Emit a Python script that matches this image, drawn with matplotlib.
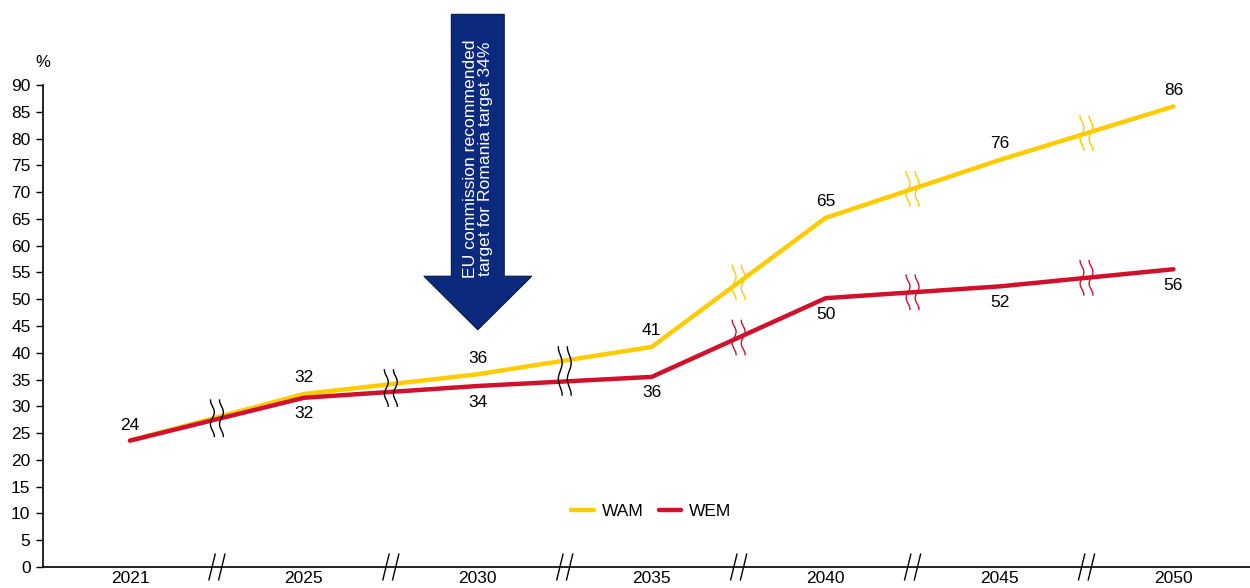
import numpy as np
import matplotlib
matplotlib.use("Agg")
import matplotlib.pyplot as plt
from matplotlib.patches import Polygon

plt.rcParams['font.family'] = ['Liberation Sans', 'DejaVu Sans']

years = ["2021", "2025", "2030", "2035", "2040", "2045", "2050"]
wam = [23.6, 32.3, 36.0, 41.1, 65.2, 76.0, 86.0]
wem = [23.6, 31.6, 33.8, 35.5, 50.2, 52.4, 55.6]
series_names = ["WAM", "WEM"]
arrow_text = "EU commission recommended\ntarget for Romania target 34%"

YELLOW = "#FFCC00"
RED = "#D0112B"
NAVY = "#0B2A7E"

fig = plt.figure(figsize=(12.5, 5.88), dpi=100)
ax = fig.add_axes([0.0344, 0.0357, 0.9656, 0.8197])

x = np.arange(len(years))
ax.plot(x, wam, color=YELLOW, lw=3.2, solid_capstyle='round', label=series_names[0], zorder=3)
ax.plot(x, wem, color=RED, lw=3.2, solid_capstyle='round', label=series_names[1], zorder=4)

ax.set_xlim(-0.5, 6.44)
ax.set_ylim(0, 90)
ax.set_yticks(np.arange(0, 91, 5))
ax.set_xticks(x)
ax.set_xticklabels(years)
ax.tick_params(axis='y', direction='out', length=5, width=1, labelsize=12.5, pad=4)
ax.tick_params(axis='x', length=0, labelsize=12.5, pad=3)
for s in ("top", "right"):
    ax.spines[s].set_visible(False)
for s in ("left", "bottom"):
    ax.spines[s].set_linewidth(1.2)

ax.text(-0.5, 92.8, "%", ha='center', va='bottom', fontsize=12, clip_on=False)

# value labels
fs = 12.5
ax.text(x[0], wam[0] + 1.4, f"{wam[0]:.0f}", ha='center', va='bottom', fontsize=fs)
for i in range(1, len(years)):
    ax.text(x[i], wam[i] + 1.6, f"{wam[i]:.0f}", ha='center', va='bottom', fontsize=fs)
    ax.text(x[i], wem[i] - 1.6, f"{wem[i]:.0f}", ha='center', va='top', fontsize=fs)


def squiggle(cx, cy, half_h, color, lw=1.0):
    t = np.linspace(-1, 1, 80)
    yy = cy + half_h * t
    amp = 0.011
    for off in (-0.026, 0.026):
        xx = cx + off + amp * np.sin(1.5 * np.pi * t)
        ax.plot(xx, yy, color=color, lw=lw, zorder=5, clip_on=False)


# breaks on the lines between the sampled years
mids = (x[:-1] + x[1:]) / 2
for k, m in enumerate(mids):
    ya = (wam[k] + wam[k + 1]) / 2
    yb = (wem[k] + wem[k + 1]) / 2
    if k < 2:
        squiggle(m, (ya + yb) / 2, 3.4, "black")
    elif k == 2:
        squiggle(m, (ya + yb) / 2, 4.5, "black")
    else:
        squiggle(m, ya, 3.2, YELLOW)
        squiggle(m, yb, 3.2, RED)
    # break on the horizontal axis
    for off in (-0.028, 0.028):
        ax.plot([m + off - 0.018, m + off + 0.018], [-2.4, 2.4], color="black",
                lw=1.0, clip_on=False, zorder=5)

# downward arrow pointing at 2030
cx = x[2]
sw, hw = 0.152, 0.31
y_top, y_base, y_tip = 103.2, 54.3, 44.3
arrow = Polygon([(cx - sw, y_top), (cx + sw, y_top), (cx + sw, y_base),
                 (cx + hw, y_base), (cx, y_tip), (cx - hw, y_base),
                 (cx - sw, y_base)], closed=True, facecolor=NAVY,
                edgecolor="#06184A", lw=0.8, clip_on=False, zorder=6)
ax.add_patch(arrow)
ax.text(cx, 76.2, arrow_text, rotation=90, ha='center', va='center',
        color='white', fontsize=12.6, linespacing=1.0, zorder=7, clip_on=False)

leg = ax.legend(loc='center', bbox_to_anchor=(0.504, 0.116), ncol=2, frameon=False,
                fontsize=12.5, handlelength=1.3, columnspacing=0.9, handletextpad=0.45)

fig.savefig("out.png", dpi=100)
